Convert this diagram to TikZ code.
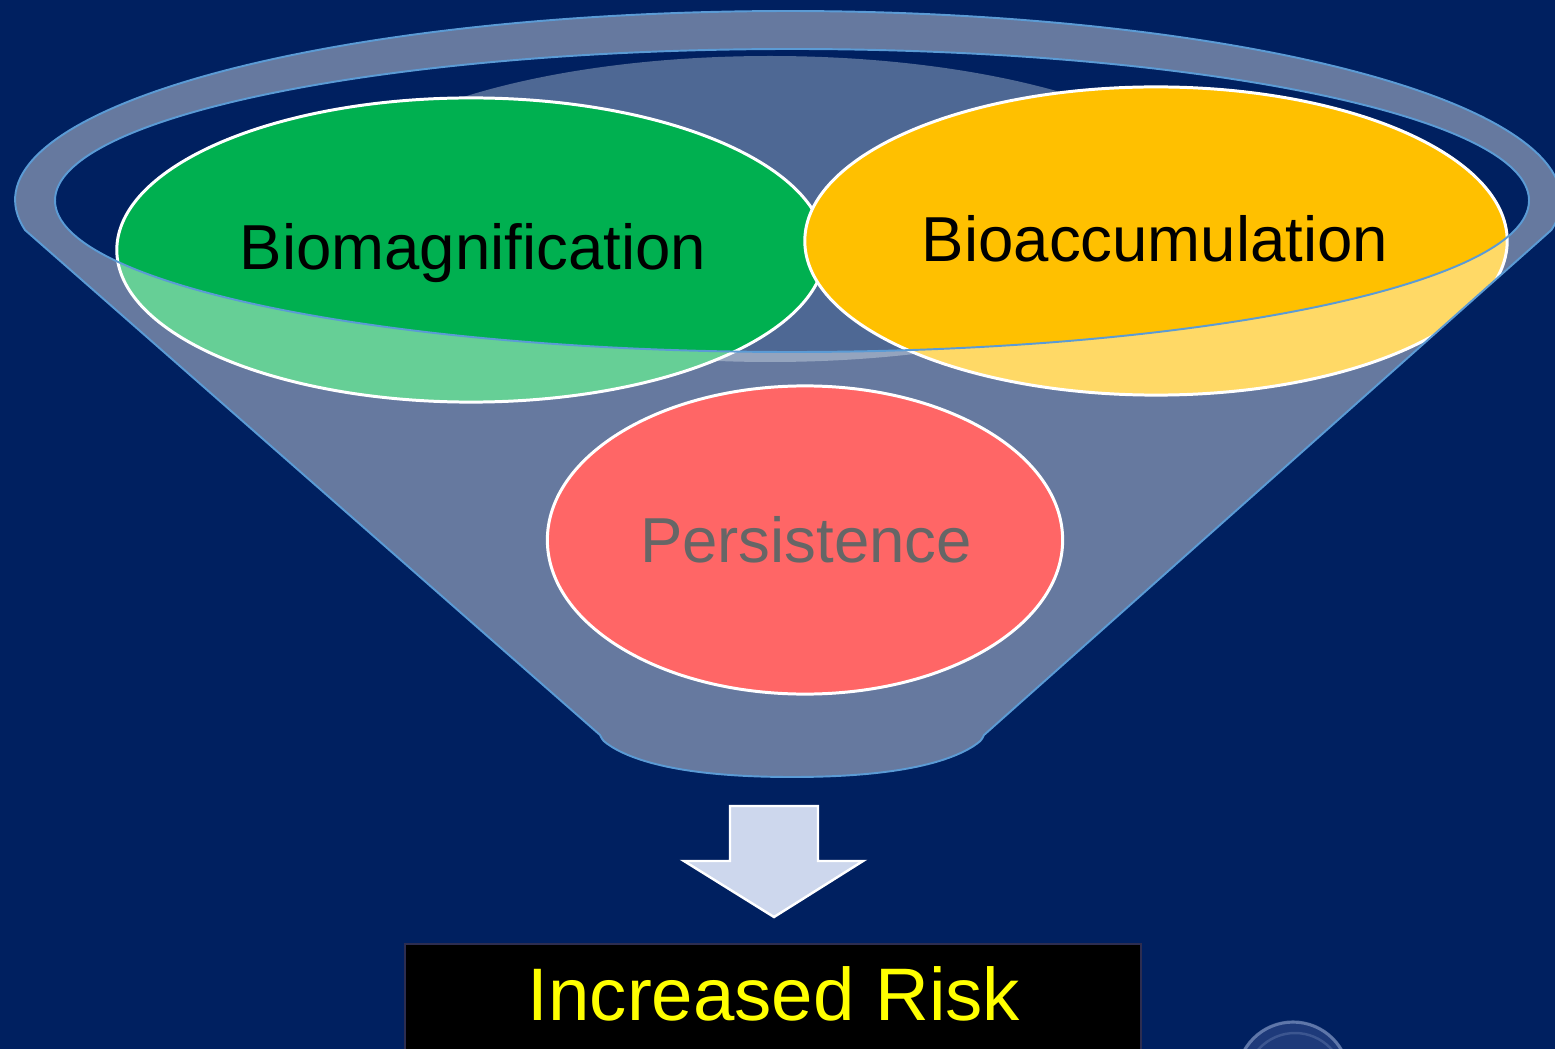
\documentclass[tikz,border=0pt]{standalone}
\usepackage{fontspec}
\setmainfont{Liberation Sans}
\usetikzlibrary{shapes.geometric}

\definecolor{navy}{RGB}{0,32,96}
\definecolor{rimline}{RGB}{91,155,213}
\definecolor{backwall}{RGB}{78,104,148}
\definecolor{leafgreen}{RGB}{0,176,80}
\definecolor{amber}{RGB}{255,192,0}
\definecolor{signalred}{RGB}{255,0,0}
\definecolor{arrowfill}{RGB}{205,215,237}
\definecolor{boxedge}{RGB}{45,45,80}
\definecolor{riskyellow}{RGB}{255,255,0}
\definecolor{bubblefill}{RGB}{30,58,122}
\definecolor{bubblerim}{RGB}{150,170,210}

% outer silhouette of the funnel: rim top, sloped walls, rounded spout
\newcommand\funnelsilhouette{%
  (25,-230) arc [start angle=189.13, end angle=-9.13, x radius=773, y radius=189]
  -- (984,-735)
  .. controls (981,-741) .. (972,-747)
  .. controls (934,-770) and (864,-777) .. (792,-777)
  .. controls (720,-777) and (650,-770) .. (612,-747)
  .. controls (603,-741) .. (600,-735)
  -- cycle}

\begin{document}
\begin{tikzpicture}[x=0.01cm, y=0.01cm,
  blob/.style={ellipse, draw=white, line width=0.85pt, inner sep=0pt, outer sep=0pt},
  lbl/.style={anchor=base, inner sep=0pt, font=\fontsize{18.07}{21}\selectfont},
  funnelglass/.style={fill=white, fill opacity=0.4, draw=rimline, draw opacity=1,
                      line width=0.55pt, even odd rule},
  downarrow/.style={fill=arrowfill, draw=white, line width=0.7pt, line join=miter},
  riskbox/.style={fill=black, draw=boxedge, line width=0.5pt, inner sep=0pt,
                  minimum width=7.36cm, minimum height=1.3cm, anchor=north},
  risktext/.style={anchor=base, inner sep=0pt, text=riskyellow,
                   font=\fontsize{21.17}{25}\selectfont}
]
% page and background
\useasboundingbox (0,0) rectangle (1555,-1049);
\fill[navy] (0,0) rectangle (1555,-1049);

% inner back wall of the funnel, seen through the mouth
\fill[backwall] (770,-209) ellipse [x radius=450, y radius=153];

% the three ingredients, kept inside the funnel walls
\begin{scope}
  \clip \funnelsilhouette;
  \node[blob, fill=leafgreen, minimum width=7.08cm, minimum height=3.04cm] (bio) at (471,-250) {};
  \node[lbl] (bioTxt) at (473,-270) {Biomagnification};
  \node[blob, fill=amber, minimum width=7.02cm, minimum height=3.08cm] (acc) at (1156,-241) {};
  \node[lbl] (accTxt) at (1155,-262) {Bioaccumulation};
  \node[blob, fill=signalred, minimum width=5.15cm, minimum height=3.08cm] (per) at (805,-540) {};
  \node[lbl] (perTxt) at (806,-562) {Persistence};
\end{scope}

% translucent funnel body with its rim opening
\path[funnelglass] \funnelsilhouette
  (792,-200.5) ellipse [x radius=737, y radius=151.5];

% arrow down to the result
\draw[downarrow] (730,-806) -- (818,-806) -- (818,-861) -- (863,-861)
  -- (774,-917) -- (684,-861) -- (730,-861) -- cycle;

% result box
\node[riskbox] (risk) at (773,-943) {};
\node[risktext] (riskTxt) at (774,-1020) {Increased Risk};

% glossy button in the corner
\fill[bubblefill] (1293,-1078) circle [radius=57];
\draw[bubblerim, opacity=0.55, line width=0.9pt] (1293,-1078) circle [radius=56];
\draw[bubblerim, opacity=0.25, line width=0.7pt] (1295,-1082) circle [radius=49];
\end{tikzpicture}
\end{document}
